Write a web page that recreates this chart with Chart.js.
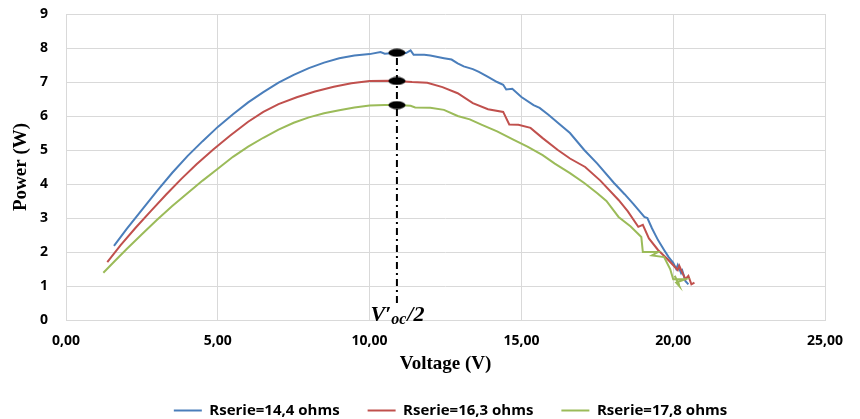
<!DOCTYPE html>
<html lang="en">
<head>
    <meta charset="UTF-8">
    <title>Power vs Voltage</title>
    <script src="https://cdn.jsdelivr.net/npm/chart.js"></script>
    <style>
        body {
            margin: 0;
            padding: 0;
            background: #ffffff;
        }
        #chartContainer {
            width: 860px;
            height: 419px;
        }
    </style>
</head>
<body>
    <div id="chartContainer">
        <canvas id="pvChart"></canvas>
    </div>

    <script>
        // tick labels
        const xTickLabels = ['0,00', '5,00', '10,00', '15,00', '20,00', '25,00'];
        const yTickLabels = ['0', '1', '2', '3', '4', '5', '6', '7', '8', '9'];

        const seriesNames = ['Rserie=14,4 ohms', 'Rserie=16,3 ohms', 'Rserie=17,8 ohms'];
        const seriesColors = ['#4A7EBB', '#C0504D', '#9BBB59'];

        // Rserie = 14,4 ohms
        const voltage1 = [1.58, 2.0, 2.5, 3.0, 3.5, 4.0, 4.5, 5.0, 5.5, 6.0, 6.5, 7.0, 7.5, 8.0, 8.5, 9.0, 9.5, 10.0, 10.36, 10.5, 10.9, 11.2, 11.35, 11.45, 11.8, 12.0, 12.45, 12.7, 12.9, 13.1, 13.4, 13.6, 13.9, 14.2, 14.4, 14.5, 14.7, 15.0, 15.4, 15.6, 15.9, 16.2, 16.6, 17.07, 17.5, 18.05, 18.4, 18.7, 19.05, 19.15, 19.3, 19.5, 19.7, 19.85, 20.0, 20.1, 20.15, 20.26, 20.3, 20.4, 20.5];
        const power1   = [2.18, 2.68, 3.24, 3.8, 4.33, 4.82, 5.26, 5.68, 6.05, 6.4, 6.7, 6.98, 7.21, 7.41, 7.57, 7.7, 7.78, 7.82, 7.88, 7.83, 7.86, 7.85, 7.93, 7.8, 7.8, 7.78, 7.7, 7.66, 7.55, 7.46, 7.38, 7.3, 7.15, 7.0, 6.92, 6.78, 6.8, 6.56, 6.32, 6.24, 6.03, 5.8, 5.5, 5.0, 4.6, 4.03, 3.7, 3.4, 3.03, 3.0, 2.7, 2.35, 2.06, 1.85, 1.68, 1.5, 1.62, 1.38, 1.45, 1.15, 1.05];

        // Rserie = 16,3 ohms
        const voltage2 = [1.36, 1.8, 2.3, 2.8, 3.3, 3.8, 4.3, 4.86, 5.4, 6.0, 6.5, 7.0, 7.6, 8.2, 8.82, 9.4, 10.0, 10.6, 10.9, 11.4, 11.9, 12.4, 12.9, 13.4, 13.9, 14.4, 14.6, 14.9, 15.3, 15.7, 16.2, 16.6, 17.1, 17.6, 18.2, 18.5, 18.85, 19.0, 19.2, 19.5, 19.8, 20.15, 20.2, 20.4, 20.5, 20.6, 20.7];
        const power2   = [1.70, 2.2, 2.72, 3.21, 3.69, 4.15, 4.58, 5.02, 5.42, 5.83, 6.12, 6.35, 6.55, 6.72, 6.86, 6.96, 7.03, 7.04, 7.03, 7.0, 6.98, 6.85, 6.67, 6.38, 6.2, 6.12, 5.75, 5.74, 5.65, 5.35, 5.0, 4.75, 4.5, 4.1, 3.53, 3.2, 2.74, 2.8, 2.4, 2.06, 1.8, 1.47, 1.6, 1.2, 1.3, 1.05, 1.1];

        // Rserie = 17,8 ohms
        const voltage3 = [1.23, 1.6, 2.0, 2.5, 3.0, 3.5, 4.0, 4.5, 5.0, 5.5, 6.0, 6.5, 7.0, 7.5, 8.0, 8.5, 9.0, 9.5, 10.0, 10.5, 10.9, 11.35, 11.5, 12.0, 12.45, 12.9, 13.3, 13.7, 14.2, 14.75, 15.2, 15.7, 16.1, 16.6, 17.07, 17.5, 17.8, 18.2, 18.6, 18.95, 19.0, 19.5, 19.3, 19.7, 19.9, 20.0, 20.4, 20.1, 20.2, 20.05, 20.2];
        const power3   = [1.39, 1.73, 2.09, 2.52, 2.95, 3.35, 3.73, 4.1, 4.45, 4.8, 5.1, 5.36, 5.6, 5.8, 5.96, 6.08, 6.17, 6.25, 6.31, 6.32, 6.32, 6.3, 6.25, 6.24, 6.18, 6.0, 5.9, 5.74, 5.55, 5.3, 5.1, 4.85, 4.6, 4.32, 4.03, 3.73, 3.5, 3.03, 2.75, 2.44, 2.0, 2.0, 1.9, 1.85, 1.5, 1.2, 1.2, 1.1, 1.0, 1.3, 1.03];

        // V'oc/2 markers
        const halfVoc = 10.9;
        const markerPower = [7.86, 7.03, 6.32];
        const guideBottom = 0.5;

        const voltages = [voltage1, voltage2, voltage3];
        const powers = [power1, power2, power3];

        const sansFont = "'Open Sans', 'Noto Sans', sans-serif";
        const serifFont = "'Liberation Serif', 'DejaVu Serif', serif";

        // black ellipse used as point style
        const ellipse = document.createElement('canvas');
        ellipse.width = 18;
        ellipse.height = 9;
        const ectx = ellipse.getContext('2d');
        ectx.fillStyle = '#000';
        ectx.beginPath();
        ectx.ellipse(9, 4.5, 8.5, 4, 0, 0, Math.PI * 2);
        ectx.fill();

        const datasets = seriesNames.map((name, i) => ({
            label: name,
            data: voltages[i].map((v, k) => ({ x: v, y: powers[i][k] })),
            borderColor: seriesColors[i],
            backgroundColor: seriesColors[i],
            borderWidth: 2,
            showLine: true,
            pointRadius: 0,
            tension: 0,
            order: 3 - i
        }));

        datasets.push({
            label: 'guide',
            data: [{ x: halfVoc, y: guideBottom }, { x: halfVoc, y: markerPower[0] }],
            borderColor: '#000',
            borderWidth: 2,
            borderDash: [7, 4, 2, 4],
            showLine: true,
            pointRadius: 0,
            order: -1
        });

        datasets.push({
            label: 'markers',
            data: markerPower.map(p => ({ x: halfVoc, y: p })),
            pointStyle: ellipse,
            showLine: false,
            order: -2
        });

        // fixed legend height, legend centred under the plot like in Excel
        const legendTweak = {
            id: 'legendTweak',
            beforeLayout(chart) {
                const legend = chart.legend;
                if (legend && !legend._fixed) {
                    const fit = legend.fit;
                    const draw = legend.draw;
                    legend.fit = function () {
                        fit.call(this);
                        this.height = 44;
                    };
                    legend.draw = function () {
                        const area = chart.chartArea;
                        const shift = (area.left + area.right) / 2 - (this.left + this.right) / 2 + 5;
                        this.ctx.save();
                        this.ctx.translate(shift, 0);
                        draw.call(this);
                        this.ctx.restore();
                    };
                    legend._fixed = true;
                }
            }
        };

        // V'oc/2 text under the guide line
        const vocLabel = {
            id: 'vocLabel',
            afterDatasetsDraw(chart) {
                const { ctx, scales } = chart;
                const x = scales.x.getPixelForValue(halfVoc);
                const y = scales.y.getPixelForValue(0) + 1;
                const big = "italic bold 22px " + serifFont;
                const small = "italic bold 16px " + serifFont;
                ctx.save();
                ctx.fillStyle = '#000';
                ctx.textBaseline = 'alphabetic';
                ctx.font = big;
                const w1 = ctx.measureText("V\u2032").width;
                const w3 = ctx.measureText("/2").width;
                ctx.font = small;
                const w2 = ctx.measureText("oc").width;
                let left = x - (w1 + w2 + w3) / 2;
                ctx.font = big;
                ctx.fillText("V\u2032", left, y);
                ctx.font = small;
                ctx.fillText("oc", left + w1, y + 3);
                ctx.font = big;
                ctx.fillText("/2", left + w1 + w2 + 1, y);
                ctx.restore();
            }
        };

        const ctx = document.getElementById('pvChart').getContext('2d');
        new Chart(ctx, {
            type: 'scatter',
            data: { datasets: datasets },
            plugins: [legendTweak, vocLabel],
            options: {
                responsive: true,
                maintainAspectRatio: false,
                animation: false,
                layout: {
                    padding: { top: 14, right: 35, left: 0, bottom: 0 }
                },
                plugins: {
                    tooltip: { enabled: false },
                    legend: {
                        position: 'bottom',
                        labels: {
                            filter: item => item.datasetIndex < seriesNames.length,
                            sort: (a, b) => a.datasetIndex - b.datasetIndex,
                            generateLabels: chart => Chart.defaults.plugins.legend.labels
                                .generateLabels(chart)
                                .map(item => Object.assign(item, { lineWidth: 0 })),
                            boxWidth: 28,
                            boxHeight: 2,
                            padding: 28,
                            color: '#000',
                            font: { family: sansFont, size: 15, weight: 'bold' }
                        }
                    }
                },
                scales: {
                    x: {
                        type: 'linear',
                        min: 0,
                        max: 25,
                        afterFit: scale => { scale.height = 55; },
                        ticks: {
                            stepSize: 5,
                            padding: 13,
                            color: '#000',
                            font: { family: sansFont, size: 14, weight: 'bold' },
                            callback: v => xTickLabels[Math.round(v / 5)]
                        },
                        grid: { color: '#d9d9d9', drawTicks: false },
                        border: { color: '#d9d9d9' },
                        title: {
                            display: true,
                            text: 'Voltage (V)',
                            color: '#000',
                            padding: { top: 0, bottom: 0 },
                            font: { family: serifFont, size: 19, weight: 'bold' }
                        }
                    },
                    y: {
                        min: 0,
                        max: 9,
                        afterFit: scale => {
                            scale.width = 66;
                            scale.paddingTop = 9;
                            scale.paddingBottom = 9;
                        },
                        ticks: {
                            stepSize: 1,
                            padding: 18,
                            color: '#000',
                            font: { family: sansFont, size: 14, weight: 'bold' },
                            callback: v => yTickLabels[v]
                        },
                        grid: { color: '#d9d9d9', drawTicks: false },
                        border: { display: false },
                        title: {
                            display: true,
                            text: 'Power (W)',
                            color: '#000',
                            padding: { top: 10, bottom: 0 },
                            font: { family: serifFont, size: 19, weight: 'bold' }
                        }
                    }
                }
            }
        });
    </script>
</body>
</html>
